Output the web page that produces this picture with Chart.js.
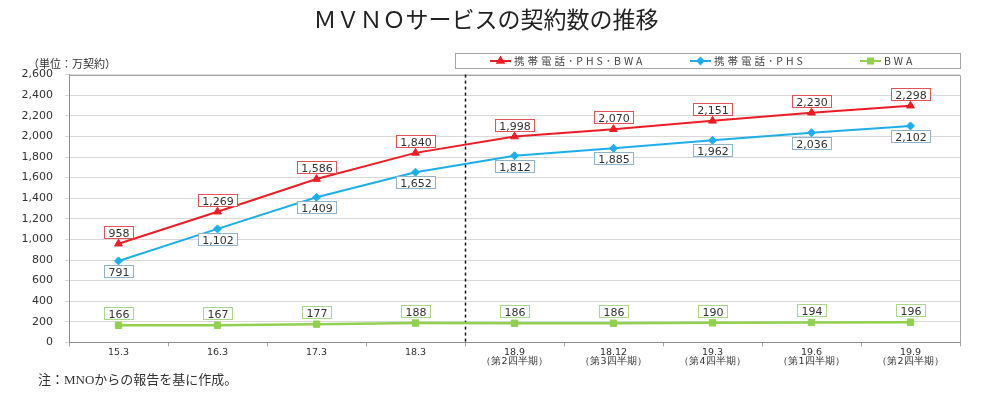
<!DOCTYPE html>
<html lang="ja">
<head>
<meta charset="utf-8">
<title>ＭＶＮＯサービスの契約数の推移</title>
<script src="https://cdn.jsdelivr.net/npm/chart.js@4.4.1/dist/chart.umd.min.js"></script>
<style>
  body { margin: 0; background: #fff; }
  #wrap { width: 1000px; height: 397px; }
</style>
</head>
<body>
<div id="wrap"><canvas id="myChart"></canvas></div>
<script>
// 時点（四半期のものは2行ラベル）
var periods = [
  "15.3", "16.3", "17.3", "18.3",
  ["18.9", "（第2四半期）"],
  ["18.12", "（第3四半期）"],
  ["19.3", "（第4四半期）"],
  ["19.6", "（第1四半期）"],
  ["19.9", "（第2四半期）"]
];

// 契約数（万契約）
var totalSubs = [958, 1269, 1586, 1840, 1998, 2070, 2151, 2230, 2298];
var mobilePhs = [791, 1102, 1409, 1652, 1812, 1885, 1962, 2036, 2102];
var bwaSubs = [166, 167, 177, 188, 186, 186, 190, 194, 196];

var seriesNames = ["携帯電話･PHS･BWA", "携帯電話･PHS", "BWA"];

var yMin = 0;
var yMax = 2600;
var yStep = 200;

var chartTitle = "ＭＶＮＯサービスの契約数の推移";
var unitLabel = "（単位：万契約）";
var footNote = "注：MNOからの報告を基に作成。";

// 年度末と四半期の境目（このインデックスの間に点線）
var dividerAfter = 3;

var numFont = "'DejaVu Sans', sans-serif";
var jpFont = "'Noto Sans CJK JP', sans-serif";

var series = [
  { data: totalSubs, color: "#ee1c25", point: "triangle", radius: 4.5, box: "#e0555a", offset: -11 },
  { data: mobilePhs, color: "#1eaeea", point: "rectRot", radius: 4, box: "#8fb4cc", offset: 11 },
  { data: bwaSubs, color: "#92d050", point: "rect", radius: 4.5, box: "#a9d88a", offset: -11 }
];

function fmt(v) {
  return Number(v).toLocaleString("en-US");
}

// 枠線と点線
var framePlugin = {
  id: "frameDivider",
  afterLayout: function (chart) {
    // 注記を少し右へ
    chart.boxes.forEach(function (b) {
      if (b.options && b.options.text === footNote) {
        b.left += 26;
      }
    });
  },
  beforeDatasetsDraw: function (chart) {
    var ctx = chart.ctx;
    var a = chart.chartArea;
    var xs = chart.scales.x;
    var x = Math.round((xs.getPixelForValue(dividerAfter) + xs.getPixelForValue(dividerAfter + 1)) / 2) + 0.5;
    ctx.save();
    ctx.strokeStyle = "#a6a6a6";
    ctx.lineWidth = 1;
    ctx.beginPath();
    ctx.moveTo(a.left, Math.round(a.top) + 0.5);
    ctx.lineTo(Math.round(a.right) + 0.5, Math.round(a.top) + 0.5);
    ctx.lineTo(Math.round(a.right) + 0.5, a.bottom);
    ctx.stroke();
    ctx.strokeStyle = "#111";
    ctx.lineWidth = 1.5;
    ctx.setLineDash([3, 3]);
    ctx.beginPath();
    ctx.moveTo(x, a.top);
    ctx.lineTo(x, a.bottom);
    ctx.stroke();
    ctx.restore();
  }
};

// データラベル
var labelPlugin = {
  id: "valueBoxes",
  afterDatasetsDraw: function (chart) {
    var ctx = chart.ctx;
    ctx.save();
    ctx.font = "11px " + numFont;
    ctx.textAlign = "center";
    ctx.textBaseline = "middle";
    chart.data.datasets.forEach(function (ds, i) {
      var meta = chart.getDatasetMeta(i);
      var s = series[i];
      meta.data.forEach(function (pt, j) {
        var text = fmt(ds.data[j]);
        var w = Math.round(ctx.measureText(text).width + 9);
        var h = 13;
        var cx = Math.round(pt.x);
        var cy = Math.round(pt.y + s.offset);
        var left = cx - Math.round(w / 2);
        var top = cy - Math.round(h / 2);
        ctx.fillStyle = "#fff";
        ctx.fillRect(left, top, w, h);
        ctx.strokeStyle = s.box;
        ctx.lineWidth = 1;
        ctx.strokeRect(left + 0.5, top + 0.5, w - 1, h - 1);
        ctx.fillStyle = "#333";
        ctx.fillText(text, cx, cy + 1);
      });
    });
    ctx.restore();
  }
};

// 凡例と単位
var legendPlugin = {
  id: "boxLegend",
  afterDraw: function (chart) {
    var ctx = chart.ctx;
    var a = chart.chartArea;
    var r = Math.round(a.right);
    var top = 53, h = 15, cy = top + h / 2 + 0.5;
    var starts = [r - 470, r - 270, r - 100];
    ctx.save();
    ctx.strokeStyle = "#a6a6a6";
    ctx.lineWidth = 1;
    ctx.strokeRect(r - 505 + 0.5, top + 0.5, 505, h);
    ctx.font = "10.5px " + jpFont;
    ctx.letterSpacing = "3px";
    ctx.textBaseline = "middle";
    ctx.textAlign = "left";
    chart.data.datasets.forEach(function (ds, i) {
      var s = series[i];
      var x0 = starts[i];
      ctx.strokeStyle = s.color;
      ctx.lineWidth = 2;
      ctx.beginPath();
      ctx.moveTo(x0, cy);
      ctx.lineTo(x0 + 21, cy);
      ctx.stroke();
      ctx.fillStyle = s.color;
      Chart.helpers.drawPoint(ctx, { pointStyle: s.point, radius: s.radius - 1, borderWidth: 1 }, x0 + 10.5, cy);
      ctx.fillStyle = "#444";
      ctx.fillText(ds.label, x0 + 24, cy);
    });
    ctx.letterSpacing = "0px";
    ctx.font = "11px " + jpFont;
    ctx.fillStyle = "#333";
    ctx.fillText(unitLabel, 28, 64);
    ctx.restore();
  }
};

var datasets = series.map(function (s, i) {
  return {
    label: seriesNames[i],
    data: s.data,
    borderColor: s.color,
    backgroundColor: s.color,
    borderWidth: i === 2 ? 2.5 : 2,
    pointStyle: s.point,
    pointRadius: s.radius,
    pointBorderWidth: 1,
    tension: 0,
    fill: false
  };
});

var ctx = document.getElementById("myChart").getContext("2d");
var chart = new Chart(ctx, {
  type: "line",
  data: { labels: periods, datasets: datasets },
  plugins: [framePlugin, labelPlugin, legendPlugin],
  options: {
    responsive: true,
    maintainAspectRatio: false,
    animation: false,
    layout: { padding: { left: 12, right: 40, top: 0, bottom: 0 } },
    plugins: {
      legend: { display: false },
      tooltip: { enabled: false },
      title: {
        display: true,
        text: chartTitle,
        color: "#222",
        font: { family: jpFont, size: 23, weight: "normal", lineHeight: 1.2 },
        padding: { top: 5, bottom: 42 }
      },
      subtitle: {
        display: true,
        position: "bottom",
        align: "start",
        text: footNote,
        color: "#333",
        font: { family: "'Liberation Serif', 'Noto Sans CJK JP', serif", size: 13, weight: "normal", lineHeight: 1.2 },
        padding: { top: 5, bottom: 9 }
      }
    },
    scales: {
      x: {
        offset: true,
        grid: {
          offset: true,
          drawOnChartArea: false,
          drawTicks: true,
          tickLength: 4,
          color: "#a6a6a6"
        },
        border: { color: "#8c8c8c" },
        ticks: {
          color: "#333",
          font: { family: numFont, size: 9.5, lineHeight: 1.0 },
          padding: 1,
          maxRotation: 0,
          autoSkip: false
        }
      },
      y: {
        min: yMin,
        max: yMax,
        afterFit: function (scale) { scale.width = 57; },
        grid: { color: "#d9d9d9", tickLength: 4, drawTicks: true },
        border: { color: "#8c8c8c" },
        ticks: {
          stepSize: yStep,
          color: "#333",
          font: { family: numFont, size: 11 },
          padding: 12,
          callback: function (v) { return fmt(v); }
        }
      }
    }
  }
});
</script>
</body>
</html>
